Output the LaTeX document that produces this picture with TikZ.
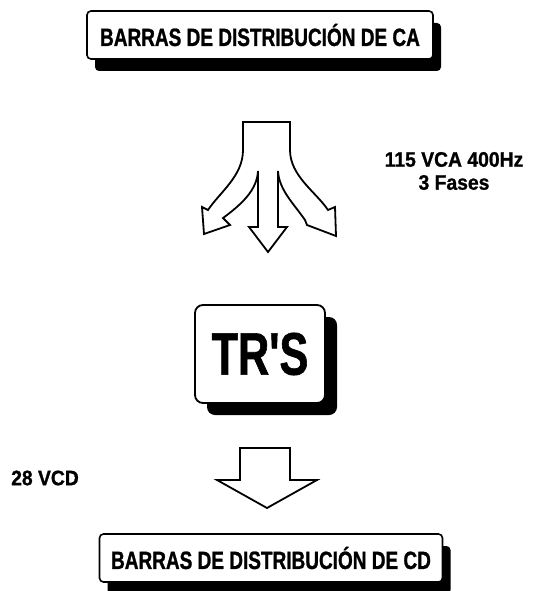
\documentclass[tikz,border=0pt]{standalone}
\usepackage{fontspec}
\setmainfont{Liberation Sans}
\newfontfamily\barfont[FakeStretch=0.76, FakeBold=1]{Liberation Sans}
\newfontfamily\trfont[FakeStretch=0.72, FakeBold=1]{Liberation Sans}
\newfontfamily\notefont[FakeStretch=0.92, FakeBold=1]{Liberation Sans}
\usepackage{tikz}
\usetikzlibrary{shadows,positioning}
\tikzset{
    busbox/.style={draw=black, line width=1.6pt, fill=white,
        rounded corners=4pt, minimum height=48pt, inner sep=0pt,
        font=\barfont\bfseries\fontsize{25}{28}\selectfont,
        drop shadow={shadow xshift=8pt, shadow yshift=-12pt,
            fill=black, opacity=1}},
    trbox/.style={draw=black, line width=1.8pt, fill=white,
        rounded corners=8pt, minimum width=130pt, minimum height=98pt,
        inner sep=0pt, font=\trfont\bfseries\fontsize{60}{64}\selectfont,
        drop shadow={shadow xshift=12pt, shadow yshift=-12pt,
            fill=black, opacity=1}},
    notelabel/.style={font=\notefont\bfseries\fontsize{21}{23}\selectfont,
        align=center, inner sep=0pt},
    blockarrow/.style={draw=black, line width=1.8pt, fill=white,
        line join=miter},
}

\begin{document}
\begin{tikzpicture}[x=1pt, y=-1pt]

    \useasboundingbox (0,0) rectangle (534,591);

    % ── AC bus bars ────────────────────────────────────────────────────────
    \node[busbox, minimum width=346pt] (acbus) at (260,35)
        {BARRAS DE DISTRIBUCIÓN DE CA};

    % ── Three-way arrow ────────────────────────────────────────────────────
    \draw[blockarrow]
        (243,122) -- (290,122) -- (290,150)
        .. controls (290,176) and (316,192) .. (328,210)
        -- (335,207) -- (336,236) -- (307,225) -- (305,220)
        .. controls (294,204) and (279,190) .. (278,171)
        -- (278,227) -- (287,227) -- (268,252) -- (249,227) -- (258,227)
        -- (258,171)
        .. controls (257,190) and (242,204) .. (223,218)
        -- (230,225) -- (204,234) -- (202,207) -- (208,210)
        .. controls (220,192) and (243,176) .. (243,150) -- cycle;
    \node[notelabel] (acnote) at (454,171) {115 VCA 400Hz\\3 Fases};

    % ── Transformer-rectifiers ─────────────────────────────────────────────
    \node[trbox] (trs) at (260,354) {TR'S};

    % ── Down arrow ─────────────────────────────────────────────────────────
    \draw[blockarrow]
        (240,448) -- (290,448) -- (290,480) -- (317,480) -- (267,508)
        -- (217,480) -- (240,480) -- cycle;
    \node[notelabel, anchor=west] (dcnote) at (11,478) {28 VCD};

    % ── DC bus bars ────────────────────────────────────────────────────────
    \node[busbox, minimum width=343pt] (dcbus) at (271,558)
        {BARRAS DE DISTRIBUCIÓN DE CD};

\end{tikzpicture}
\end{document}
